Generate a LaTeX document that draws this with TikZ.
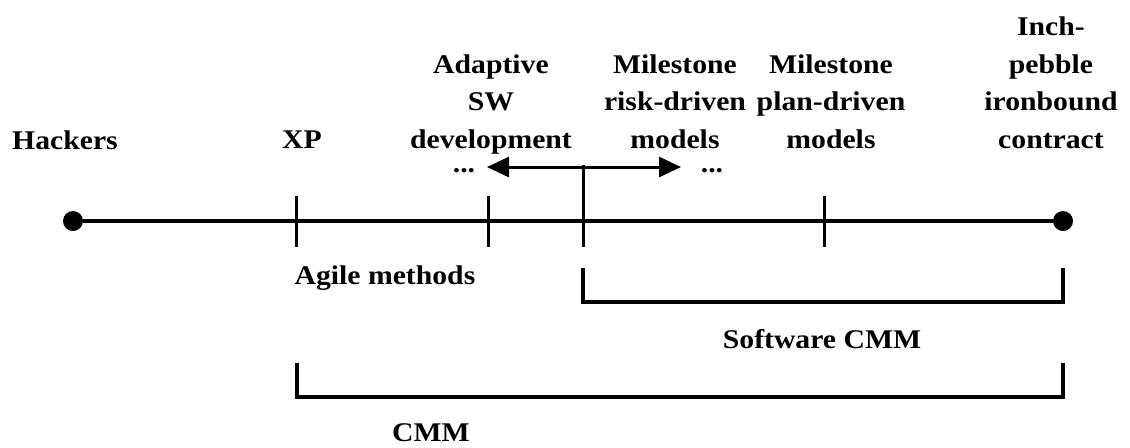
\documentclass[tikz,border=0pt]{standalone}
\usepackage{fontspec}
\setmainfont{Liberation Serif}[FakeStretch=1.1]
\usetikzlibrary{arrows.meta}
\tikzset{>={Triangle[length=11pt,width=10pt]}}
\tikzset{
  tag/.style = {font=\fontsize{13.5pt}{18.75pt}\selectfont\bfseries,
    align=center, anchor=base, inner sep=0pt},
  enddot/.style = {fill, circle, inner sep=0pt, minimum size=10pt},
  tick/.style = {line width=1.5pt},
  bracket/.style = {line width=1.6pt}
}

\begin{document}
\begin{tikzpicture}[x=0.5pt,y=-0.5pt]
  \useasboundingbox (0,0) rectangle (1130,447);
  % scale
  \node[enddot] (hackers) at (73,221) {};
  \node[enddot] (contract) at (1063,221) {};
  \draw[line width=2pt] (hackers) -- (contract);
  % ticks
  \draw[tick] (296,196) coordinate (xp) -- (296,247);
  \draw[tick] (488,196) coordinate (asd) -- (488,247);
  \draw[tick] (583,165) coordinate (mid) -- (583,247) coordinate (midlow);
  \draw[tick] (824,196) coordinate (plan) -- (824,247);
  % arrow
  \coordinate (hub) at (583,167);
  \coordinate (left) at (487,167);
  \coordinate (right) at (681,167);
  \draw[->,line width=1.5pt] (hub) -- (left);
  \draw[->,line width=1.5pt] (hub) -- (right);
  \node[tag] (dotsl) at (464,172) {...};
  \node[tag] (dotsr) at (712,172) {...};
  % labels
  \node[tag] (hack) at (65,149) {Hackers};
  \node[tag] (xplbl) at (302,148) {XP};
  \node[tag] (adapt) at (491,148) {Adaptive\\SW\\development};
  \node[tag] (risk) at (675,148) {Milestone\\risk-driven\\models};
  \node[tag] (plandr) at (831,148) {Milestone\\plan-driven\\models};
  \node[tag] (inch) at (1051,148) {Inch-\\pebble\\ironbound\\contract};
  \node[tag] (agile) at (385,284) {Agile methods};
  % brackets
  \coordinate (swl) at (583,268);
  \coordinate (swr) at (1063,268);
  \draw[bracket] (swl) -- (583,302) -- (1063,302) -- (swr);
  \node[tag] (swcmm) at (822,348) {Software CMM};
  \coordinate (cmml) at (297,363);
  \coordinate (cmmr) at (1063,363);
  \draw[bracket] (cmml) -- (297,397) -- (1063,397) -- (cmmr);
  \node[tag] (cmm) at (431,441) {CMM};
\end{tikzpicture}
\end{document}
